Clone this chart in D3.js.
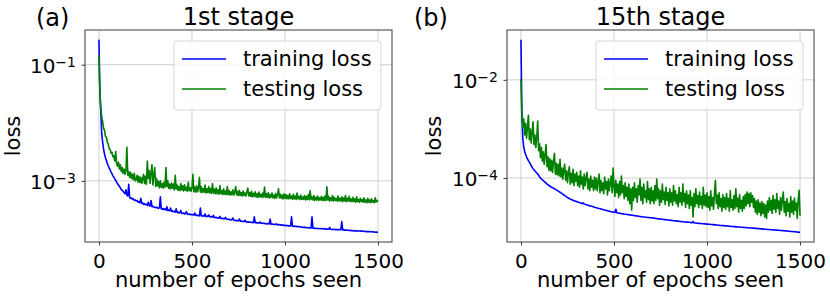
<!DOCTYPE html>
<html>
<head>
<meta charset="utf-8">
<script src="https://cdn.jsdelivr.net/npm/d3@7"></script>
<style>
  body { margin: 0; background: #fff; }
  svg { display: block; font-family: "DejaVu Sans", sans-serif; }
</style>
</head>
<body>
<div id="chart"></div>
<script>
const width = 830,
  height = 298;

// one value every 5 epochs, 0..1500
const epochs = d3.range(0, 1501, 5);
const xTicks = [0, 500, 1000, 1500];
const seriesNames = ['training loss', 'testing loss'];

// (a) 1st stage - training loss
const trainA = [
  0.27, 0.035, 0.016, 6.3e-3, 4.6e-3, 3.5e-3, 2.9e-3, 2.5e-3, 2.25e-3, 1.98e-3, 1.82e-3, 1.66e-3, 1.56e-3, 1.42e-3, 1.33e-3, 1.22e-3, 1.16e-3, 1.08e-3, 1.03e-3, 9.5e-4,
  8.9e-4, 8.5e-4, 8.0e-4, 7.6e-4, 7.1e-4, 6.9e-4, 6.6e-4, 6.3e-4, 6.0e-4, 7.0e-4, 5.7e-4, 5.5e-4, 8.7e-4, 5.2e-4, 5.0e-4, 5.1e-4, 4.8e-4, 4.9e-4, 4.65e-4, 4.7e-4,
  4.5e-4, 4.6e-4, 4.3e-4, 4.4e-4, 4.2e-4, 5.0e-4, 4.1e-4, 4.15e-4, 3.95e-4, 4.05e-4, 3.9e-4, 3.95e-4, 3.8e-4, 4.3e-4, 3.75e-4, 3.7e-4, 4.6e-4, 3.6e-4, 3.65e-4, 3.55e-4,
  3.5e-4, 3.45e-4, 3.55e-4, 3.4e-4, 3.35e-4, 3.45e-4, 5.3e-4, 3.3e-4, 3.25e-4, 3.35e-4, 3.2e-4, 3.3e-4, 3.15e-4, 3.6e-4, 3.1e-4, 3.15e-4, 3.05e-4, 3.4e-4, 3.0e-4, 3.05e-4,
  2.95e-4, 3.0e-4, 2.9e-4, 3.3e-4, 2.85e-4, 2.9e-4, 2.8e-4, 2.85e-4, 3.1e-4, 2.75e-4, 2.75e-4, 2.8e-4, 2.7e-4, 2.75e-4, 2.95e-4, 2.68e-4, 2.65e-4, 2.7e-4, 2.62e-4, 2.66e-4,
  2.6e-4, 2.64e-4, 2.58e-4, 2.8e-4, 2.55e-4, 2.58e-4, 2.52e-4, 2.55e-4, 2.5e-4, 3.4e-4, 2.5e-4, 2.48e-4, 2.52e-4, 2.46e-4, 2.7e-4, 2.45e-4, 2.47e-4, 2.43e-4, 2.6e-4, 2.42e-4,
  2.4e-4, 2.43e-4, 2.38e-4, 2.55e-4, 2.35e-4, 2.33e-4, 2.36e-4, 2.3e-4, 2.32e-4, 2.28e-4, 2.45e-4, 2.26e-4, 2.25e-4, 2.28e-4, 2.22e-4, 2.24e-4, 2.35e-4, 2.2e-4, 2.18e-4, 2.2e-4,
  2.15e-4, 2.17e-4, 2.13e-4, 2.15e-4, 2.3e-4, 2.1e-4, 2.08e-4, 2.1e-4, 2.06e-4, 2.08e-4, 2.04e-4, 2.2e-4, 2.02e-4, 2.03e-4, 2.0e-4, 2.02e-4, 1.99e-4, 2.1e-4, 1.97e-4, 1.98e-4,
  1.95e-4, 1.97e-4, 1.94e-4, 1.95e-4, 1.92e-4, 1.94e-4, 1.91e-4, 2.4e-4, 1.9e-4, 1.92e-4, 1.89e-4, 1.9e-4, 1.88e-4, 1.95e-4, 1.87e-4, 1.86e-4, 1.88e-4, 1.85e-4, 1.86e-4, 1.83e-4,
  1.82e-4, 1.84e-4, 1.81e-4, 1.82e-4, 2.2e-4, 1.8e-4, 1.79e-4, 1.81e-4, 1.78e-4, 1.79e-4, 1.77e-4, 1.82e-4, 1.76e-4, 1.75e-4, 1.77e-4, 1.74e-4, 1.75e-4, 1.73e-4, 1.74e-4, 1.71e-4,
  1.7e-4, 1.72e-4, 1.69e-4, 1.7e-4, 1.68e-4, 1.69e-4, 1.67e-4, 2.4e-4, 1.66e-4, 1.65e-4, 1.67e-4, 1.64e-4, 1.65e-4, 1.63e-4, 1.64e-4, 1.62e-4, 1.63e-4, 1.61e-4, 1.6e-4, 1.59e-4,
  1.58e-4, 1.6e-4, 1.57e-4, 1.58e-4, 1.56e-4, 1.57e-4, 1.55e-4, 1.56e-4, 1.54e-4, 2.4e-4, 1.53e-4, 1.54e-4, 1.52e-4, 1.53e-4, 1.52e-4, 1.51e-4, 1.52e-4, 1.5e-4, 1.51e-4, 1.5e-4,
  1.5e-4, 1.51e-4, 1.49e-4, 1.5e-4, 1.48e-4, 1.49e-4, 1.47e-4, 1.48e-4, 1.58e-4, 1.47e-4, 1.46e-4, 1.47e-4, 1.46e-4, 1.47e-4, 1.45e-4, 1.46e-4, 1.45e-4, 1.46e-4, 1.44e-4, 1.45e-4,
  1.44e-4, 2.0e-4, 1.43e-4, 1.44e-4, 1.42e-4, 1.43e-4, 1.41e-4, 1.42e-4, 1.41e-4, 1.4e-4, 1.41e-4, 1.39e-4, 1.4e-4, 1.39e-4, 1.38e-4, 1.39e-4, 1.38e-4, 1.37e-4, 1.38e-4, 1.37e-4,
  1.37e-4, 1.38e-4, 1.36e-4, 1.37e-4, 1.36e-4, 1.35e-4, 1.36e-4, 1.35e-4, 1.34e-4, 1.35e-4, 1.34e-4, 1.33e-4, 1.34e-4, 1.33e-4, 1.32e-4, 1.33e-4, 1.32e-4, 1.31e-4, 1.32e-4, 1.31e-4,
  1.3e-4
];

// (a) 1st stage - testing loss
const testA = [
  0.145, 0.032, 0.018, 0.0126, 0.0105, 8.0e-3, 7.4e-3, 5.8e-3, 5.6e-3, 4.6e-3, 4.3e-3, 3.6e-3, 3.5e-3, 3.0e-3, 3.1e-3, 2.6e-3, 2.7e-3, 2.2e-3, 3.2e-3, 1.95e-3,
  1.8e-3, 2.1e-3, 1.6e-3, 1.9e-3, 1.45e-3, 1.7e-3, 1.35e-3, 1.6e-3, 1.3e-3, 1.5e-3, 3.8e-3, 1.25e-3, 1.45e-3, 1.15e-3, 1.4e-3, 1.1e-3, 1.3e-3, 1.05e-3, 1.35e-3, 1.0e-3,
  1.05e-3, 1.25e-3, 9.5e-4, 1.2e-3, 9.4e-4, 1.15e-3, 9.0e-4, 1.1e-3, 1.3e-3, 9.0e-4, 1.2e-3, 8.8e-4, 2.2e-3, 1.1e-3, 1.5e-3, 9.0e-4, 1.4e-3, 1.9e-3, 8.5e-4, 1.3e-3,
  1.7e-3, 8.0e-4, 1.1e-3, 8.2e-4, 9.8e-4, 7.6e-4, 1.0e-3, 7.8e-4, 9.0e-4, 7.5e-4, 9.5e-4, 7.8e-4, 1.7e-3, 8.0e-4, 1.0e-3, 7.4e-4, 8.8e-4, 7.3e-4, 9.2e-4, 7.5e-4,
  8.8e-4, 7.0e-4, 1.25e-3, 7.3e-4, 8.5e-4, 6.9e-4, 8.0e-4, 6.8e-4, 9.0e-4, 7.0e-4, 8.2e-4, 6.7e-4, 8.6e-4, 6.9e-4, 7.8e-4, 6.6e-4, 9.5e-4, 6.8e-4, 7.6e-4, 6.6e-4,
  7.6e-4, 1.3e-3, 6.5e-4, 7.8e-4, 6.4e-4, 8.2e-4, 6.5e-4, 7.5e-4, 1.15e-3, 6.4e-4, 8.0e-4, 6.3e-4, 7.4e-4, 6.4e-4, 8.5e-4, 6.2e-4, 7.3e-4, 6.3e-4, 8.0e-4, 6.2e-4,
  7.4e-4, 6.1e-4, 9.0e-4, 6.2e-4, 7.2e-4, 6.0e-4, 7.6e-4, 6.0e-4, 7.0e-4, 5.9e-4, 8.3e-4, 6.0e-4, 6.8e-4, 5.8e-4, 7.3e-4, 5.9e-4, 6.7e-4, 5.8e-4, 8.0e-4, 5.8e-4,
  6.8e-4, 5.7e-4, 6.5e-4, 5.8e-4, 7.0e-4, 5.7e-4, 6.4e-4, 8.0e-4, 5.7e-4, 6.6e-4, 5.6e-4, 6.9e-4, 5.6e-4, 6.3e-4, 5.5e-4, 6.7e-4, 5.6e-4, 6.2e-4, 5.5e-4, 6.5e-4,
  7.5e-4, 5.5e-4, 6.3e-4, 5.4e-4, 6.6e-4, 5.3e-4, 6.1e-4, 5.4e-4, 6.5e-4, 5.3e-4, 6.0e-4, 5.2e-4, 6.4e-4, 5.3e-4, 5.9e-4, 5.2e-4, 6.2e-4, 5.3e-4, 7.8e-4, 5.2e-4,
  6.0e-4, 5.2e-4, 6.3e-4, 5.1e-4, 5.8e-4, 5.2e-4, 6.2e-4, 5.1e-4, 5.7e-4, 5.0e-4, 6.1e-4, 5.1e-4, 5.8e-4, 7.3e-4, 5.1e-4, 5.9e-4, 5.0e-4, 5.7e-4, 4.9e-4, 6.0e-4,
  5.0e-4, 5.8e-4, 4.9e-4, 5.6e-4, 4.9e-4, 6.0e-4, 5.0e-4, 5.5e-4, 4.8e-4, 5.9e-4, 4.9e-4, 5.5e-4, 4.8e-4, 6.2e-4, 4.9e-4, 5.4e-4, 4.8e-4, 5.7e-4, 4.8e-4, 5.3e-4,
  4.8e-4, 5.6e-4, 4.7e-4, 5.4e-4, 4.8e-4, 5.8e-4, 4.7e-4, 6.8e-4, 4.8e-4, 5.3e-4, 4.7e-4, 5.6e-4, 4.6e-4, 5.2e-4, 4.7e-4, 5.5e-4, 4.6e-4, 5.1e-4, 4.7e-4, 5.4e-4,
  4.6e-4, 5.2e-4, 4.6e-4, 5.5e-4, 4.6e-4, 7.9e-4, 4.7e-4, 5.4e-4, 4.5e-4, 5.1e-4, 4.6e-4, 5.6e-4, 4.5e-4, 5.2e-4, 4.6e-4, 5.0e-4, 4.5e-4, 5.5e-4, 4.5e-4, 5.0e-4,
  4.5e-4, 5.3e-4, 4.4e-4, 5.1e-4, 4.5e-4, 5.6e-4, 4.4e-4, 5.0e-4, 4.5e-4, 5.4e-4, 4.4e-4, 4.9e-4, 4.4e-4, 5.2e-4, 4.4e-4, 4.9e-4, 4.3e-4, 5.3e-4, 4.4e-4, 4.8e-4,
  4.3e-4, 5.0e-4, 4.4e-4, 4.8e-4, 4.3e-4, 5.1e-4, 4.3e-4, 4.7e-4, 4.2e-4, 5.0e-4, 4.3e-4, 4.7e-4, 4.2e-4, 4.9e-4, 4.3e-4, 4.6e-4, 4.2e-4, 5.1e-4, 4.3e-4, 4.6e-4,
  4.4e-4
];

// (b) 15th stage - training loss
const trainB = [
  0.066, 2.0e-3, 6.3e-4, 4.2e-4, 3.5e-4, 3.05e-4, 2.7e-4, 2.45e-4, 2.25e-4, 2.1e-4, 1.95e-4, 1.8e-4, 1.65e-4, 1.55e-4, 1.47e-4, 1.4e-4, 1.33e-4, 1.26e-4, 1.2e-4, 1.14e-4,
  1.06e-4, 1.0e-4, 9.6e-5, 9.2e-5, 8.8e-5, 8.5e-5, 8.1e-5, 7.9e-5, 7.5e-5, 7.3e-5, 7.0e-5, 6.9e-5, 6.6e-5, 6.5e-5, 6.3e-5, 6.2e-5, 6.0e-5, 5.9e-5, 5.7e-5, 5.6e-5,
  5.4e-5, 5.3e-5, 5.1e-5, 5.0e-5, 4.8e-5, 4.7e-5, 4.5e-5, 4.4e-5, 4.25e-5, 4.15e-5, 4.0e-5, 3.9e-5, 3.8e-5, 3.75e-5, 3.65e-5, 3.6e-5, 3.5e-5, 3.45e-5, 3.4e-5, 3.35e-5,
  3.3e-5, 3.25e-5, 3.2e-5, 3.15e-5, 3.1e-5, 3.05e-5, 3.0e-5, 3.1e-5, 2.95e-5, 2.9e-5, 2.85e-5, 2.82e-5, 2.8e-5, 2.75e-5, 2.7e-5, 2.68e-5, 2.65e-5, 2.62e-5, 2.58e-5, 2.55e-5,
  2.5e-5, 2.48e-5, 2.45e-5, 2.42e-5, 2.4e-5, 2.37e-5, 2.34e-5, 2.32e-5, 2.28e-5, 2.26e-5, 2.23e-5, 2.21e-5, 2.18e-5, 2.16e-5, 2.13e-5, 2.11e-5, 2.08e-5, 2.06e-5, 2.04e-5, 2.02e-5,
  2.0e-5, 1.98e-5, 2.3e-5, 1.96e-5, 1.94e-5, 1.93e-5, 1.91e-5, 1.9e-5, 1.88e-5, 1.87e-5, 1.86e-5, 1.84e-5, 1.83e-5, 1.82e-5, 1.8e-5, 1.79e-5, 1.78e-5, 1.77e-5, 1.76e-5, 1.75e-5,
  1.74e-5, 1.73e-5, 1.71e-5, 1.7e-5, 1.69e-5, 1.68e-5, 1.66e-5, 1.66e-5, 1.64e-5, 1.63e-5, 1.62e-5, 1.61e-5, 1.6e-5, 1.6e-5, 1.59e-5, 1.58e-5, 1.57e-5, 1.57e-5, 1.56e-5, 1.55e-5,
  1.55e-5, 1.54e-5, 1.53e-5, 1.52e-5, 1.51e-5, 1.5e-5, 1.49e-5, 1.48e-5, 1.47e-5, 1.46e-5, 1.46e-5, 1.45e-5, 1.44e-5, 1.43e-5, 1.42e-5, 1.42e-5, 1.41e-5, 1.4e-5, 1.39e-5, 1.39e-5,
  1.38e-5, 1.37e-5, 1.37e-5, 1.36e-5, 1.35e-5, 1.34e-5, 1.34e-5, 1.33e-5, 1.32e-5, 1.32e-5, 1.31e-5, 1.3e-5, 1.3e-5, 1.29e-5, 1.28e-5, 1.28e-5, 1.27e-5, 1.27e-5, 1.26e-5, 1.26e-5,
  1.25e-5, 1.25e-5, 1.24e-5, 1.23e-5, 1.23e-5, 1.3e-5, 1.22e-5, 1.21e-5, 1.21e-5, 1.2e-5, 1.2e-5, 1.19e-5, 1.19e-5, 1.18e-5, 1.18e-5, 1.17e-5, 1.17e-5, 1.16e-5, 1.16e-5, 1.15e-5,
  1.15e-5, 1.15e-5, 1.14e-5, 1.14e-5, 1.13e-5, 1.13e-5, 1.12e-5, 1.12e-5, 1.11e-5, 1.11e-5, 1.1e-5, 1.1e-5, 1.09e-5, 1.09e-5, 1.08e-5, 1.08e-5, 1.08e-5, 1.07e-5, 1.07e-5, 1.06e-5,
  1.06e-5, 1.06e-5, 1.05e-5, 1.05e-5, 1.04e-5, 1.04e-5, 1.03e-5, 1.03e-5, 1.03e-5, 1.02e-5, 1.02e-5, 1.01e-5, 1.01e-5, 1.0e-5, 1.0e-5, 1.0e-5, 9.95e-6, 9.9e-6, 9.9e-6, 9.85e-6,
  9.8e-6, 9.8e-6, 9.75e-6, 9.7e-6, 9.7e-6, 9.65e-6, 9.6e-6, 9.6e-6, 9.55e-6, 9.5e-6, 9.5e-6, 9.45e-6, 9.4e-6, 9.4e-6, 9.35e-6, 9.3e-6, 9.3e-6, 9.25e-6, 9.2e-6, 9.2e-6,
  9.1e-6, 9.1e-6, 9.05e-6, 9.0e-6, 9.0e-6, 8.95e-6, 8.9e-6, 8.9e-6, 8.85e-6, 8.8e-6, 8.8e-6, 8.75e-6, 8.7e-6, 8.7e-6, 8.65e-6, 8.65e-6, 8.6e-6, 8.6e-6, 8.55e-6, 8.5e-6,
  8.5e-6, 8.45e-6, 8.45e-6, 8.4e-6, 8.35e-6, 8.35e-6, 8.3e-6, 8.25e-6, 8.2e-6, 8.2e-6, 8.15e-6, 8.1e-6, 8.1e-6, 8.05e-6, 8.0e-6, 8.0e-6, 7.95e-6, 7.9e-6, 7.9e-6, 7.85e-6,
  7.8e-6
];

// (b) 15th stage - testing loss
const testB = [
  0.0105, 1.7e-3, 1.1e-3, 1.6e-3, 7.5e-4, 1.3e-3, 6.5e-4, 1.1e-3, 1.9e-3, 6.0e-4, 1.0e-3, 5.2e-4, 8.5e-4, 1.4e-3, 4.8e-4, 7.5e-4, 4.2e-4, 6.8e-4, 1.45e-3, 3.6e-4,
  5.0e-4, 2.6e-4, 4.2e-4, 2.2e-4, 3.4e-4, 1.9e-4, 3.0e-4, 4.8e-4, 1.7e-4, 2.7e-4, 1.45e-4, 2.5e-4, 1.4e-4, 2.3e-4, 1.3e-4, 2.2e-4, 3.2e-4, 1.2e-4, 2.0e-4, 1.15e-4,
  1.9e-4, 1.1e-4, 2.4e-4, 1.05e-4, 1.6e-4, 9.5e-5, 1.5e-4, 1.9e-4, 9.0e-5, 1.4e-4, 8.0e-5, 1.3e-4, 1.7e-4, 7.5e-5, 1.25e-4, 8.0e-5, 1.5e-4, 7.0e-5, 1.2e-4, 8.5e-5,
  1.3e-4, 7.0e-5, 1.1e-4, 6.5e-5, 1.4e-4, 7.5e-5, 1.05e-4, 6.0e-5, 1.2e-4, 7.0e-5, 1.0e-4, 1.3e-4, 6.0e-5, 9.5e-5, 5.5e-5, 1.1e-4, 6.5e-5, 9.0e-5, 5.5e-5, 1.05e-4,
  6.0e-5, 1.0e-4, 5.5e-5, 8.5e-5, 1.2e-4, 5.0e-5, 9.0e-5, 5.5e-5, 8.0e-5, 4.8e-5, 1.05e-4, 6.0e-5, 8.5e-5, 4.5e-5, 9.5e-5, 5.5e-5, 8.0e-5, 1.1e-4, 5.0e-5, 1.6e-4,
  7.0e-5, 4.2e-5, 9.0e-5, 5.0e-5, 7.5e-5, 4.0e-5, 8.5e-5, 4.5e-5, 1.1e-4, 5.0e-5, 7.0e-5, 3.8e-5, 8.0e-5, 4.2e-5, 6.5e-5, 3.5e-5, 7.5e-5, 3.0e-5, 6.0e-5, 2.2e-5,
  6.5e-5, 3.5e-5, 8.0e-5, 4.0e-5, 6.0e-5, 3.2e-5, 7.0e-5, 4.5e-5, 9.5e-5, 3.5e-5, 6.5e-5, 3.0e-5, 7.5e-5, 4.0e-5, 5.5e-5, 3.2e-5, 8.5e-5, 3.6e-5, 6.0e-5, 3.0e-5,
  6.5e-5, 3.4e-5, 5.5e-5, 3.0e-5, 7.0e-5, 3.5e-5, 9.5e-5, 3.8e-5, 6.0e-5, 2.8e-5, 5.5e-5, 3.2e-5, 7.5e-5, 3.6e-5, 5.2e-5, 2.9e-5, 6.5e-5, 3.5e-5, 5.0e-5, 2.7e-5,
  6.0e-5, 3.2e-5, 5.0e-5, 2.8e-5, 7.0e-5, 3.4e-5, 5.5e-5, 3.0e-5, 4.6e-5, 2.6e-5, 6.5e-5, 3.2e-5, 5.0e-5, 2.8e-5, 7.5e-5, 3.3e-5, 4.8e-5, 2.5e-5, 5.5e-5, 3.0e-5,
  4.5e-5, 2.4e-5, 5.5e-5, 2.8e-5, 4.0e-5, 1.6e-5, 4.8e-5, 2.6e-5, 6.0e-5, 3.0e-5, 4.4e-5, 2.5e-5, 5.2e-5, 2.9e-5, 4.2e-5, 2.4e-5, 6.5e-5, 2.8e-5, 4.5e-5, 2.6e-5,
  5.0e-5, 2.5e-5, 4.2e-5, 2.2e-5, 5.5e-5, 2.7e-5, 4.0e-5, 2.3e-5, 4.8e-5, 9.0e-5, 3.0e-5, 4.5e-5, 2.4e-5, 5.0e-5, 2.6e-5, 3.8e-5, 2.1e-5, 4.6e-5, 2.5e-5, 4.0e-5,
  2.3e-5, 4.8e-5, 2.6e-5, 3.8e-5, 2.1e-5, 5.5e-5, 2.5e-5, 3.6e-5, 2.2e-5, 4.4e-5, 2.4e-5, 6.0e-5, 2.6e-5, 3.9e-5, 2.0e-5, 4.6e-5, 2.4e-5, 3.5e-5, 2.1e-5, 4.2e-5,
  2.4e-5, 4.6e-5, 2.7e-5, 5.2e-5, 3.0e-5, 4.8e-5, 2.6e-5, 5.0e-5, 3.2e-5, 4.4e-5, 2.5e-5, 3.8e-5, 2.0e-5, 3.4e-5, 1.8e-5, 3.6e-5, 2.0e-5, 3.1e-5, 1.7e-5, 3.3e-5,
  1.9e-5, 3.0e-5, 1.6e-5, 2.8e-5, 1.5e-5, 3.4e-5, 2.0e-5, 4.0e-5, 2.2e-5, 3.5e-5, 1.9e-5, 4.4e-5, 2.3e-5, 3.6e-5, 2.0e-5, 4.8e-5, 2.4e-5, 3.4e-5, 1.8e-5, 4.0e-5,
  2.2e-5, 3.6e-5, 5.2e-5, 2.0e-5, 3.3e-5, 1.7e-5, 3.8e-5, 2.1e-5, 3.0e-5, 1.6e-5, 4.2e-5, 2.0e-5, 3.4e-5, 1.8e-5, 3.9e-5, 2.2e-5, 3.1e-5, 1.5e-5, 3.5e-5, 5.6e-5,
  1.7e-5
];

const panels = [
  { tag: '(a)', title: '1st stage', train: trainA, test: testA, yTicks: [1e-1, 1e-3], left: 85, right: 392, tagX: 36, ylabelX: 19.5 },
  { tag: '(b)', title: '15th stage', train: trainB, test: testB, yTicks: [1e-2, 1e-4], left: 507, right: 814, tagX: 414, ylabelX: 441 },
];
const plotTop = 30,
  plotBottom = 242;
const colors = ['#0000ff', '#008000'];

const svg = d3
  .select('#chart')
  .append('svg')
  .attr('width', width)
  .attr('height', height);

function drawPanel(p) {
  const g = svg.append('g');

  // x domain padded 5% like matplotlib
  const x = d3.scaleLinear().domain([-75, 1575]).range([p.left, p.right]);

  // log y with 5% padding of the data span (in decades)
  const all = p.train.concat(p.test);
  const lo = Math.log10(d3.min(all)),
    hi = Math.log10(d3.max(all));
  const pad = (hi - lo) * 0.05;
  const y = d3
    .scaleLog()
    .domain([Math.pow(10, lo - pad), Math.pow(10, hi + pad)])
    .range([plotBottom, plotTop]);

  // grid
  g.append('g')
    .selectAll('line')
    .data(xTicks)
    .join('line')
    .attr('x1', (d) => x(d))
    .attr('x2', (d) => x(d))
    .attr('y1', plotTop)
    .attr('y2', plotBottom)
    .attr('stroke', '#d0d0d0')
    .attr('stroke-width', 1);
  g.append('g')
    .selectAll('line')
    .data(p.yTicks)
    .join('line')
    .attr('x1', p.left)
    .attr('x2', p.right)
    .attr('y1', (d) => y(d))
    .attr('y2', (d) => y(d))
    .attr('stroke', '#d0d0d0')
    .attr('stroke-width', 1);

  // the two loss curves, test on top
  const line = d3
    .line()
    .x((d) => x(d[0]))
    .y((d) => y(d[1]));
  [p.train, p.test].forEach((s, i) => {
    const pts = epochs.map((e, k) => [e, s[k]]).filter((d) => d[1] != null);
    g.append('path')
      .datum(pts)
      .attr('d', line)
      .attr('fill', 'none')
      .attr('stroke', colors[i])
      .attr('stroke-width', 1.6)
      .attr('stroke-linejoin', 'round');
  });

  // frame
  g.append('rect')
    .attr('x', p.left)
    .attr('y', plotTop)
    .attr('width', p.right - p.left)
    .attr('height', plotBottom - plotTop)
    .attr('fill', 'none')
    .attr('stroke', '#3a3a3a')
    .attr('stroke-width', 1);

  // x axis
  const xa = g
    .append('g')
    .attr('transform', `translate(0,${plotBottom})`)
    .call(d3.axisBottom(x).tickValues(xTicks).tickSize(3.5).tickPadding(7.8).tickFormat(d3.format('d')));
  xa.select('.domain').remove();
  xa.selectAll('line').attr('stroke', '#3a3a3a');
  xa.selectAll('text').attr('font-size', 20).attr('font-family', 'DejaVu Sans').attr('fill', '#000');

  // y axis, labels as 10 with superscript exponent
  const ya = g
    .append('g')
    .attr('transform', `translate(${p.left},0)`)
    .call(d3.axisLeft(y).tickValues(p.yTicks).tickSize(3.5).tickPadding(5.5).tickFormat(''));
  ya.select('.domain').remove();
  ya.selectAll('line').attr('stroke', '#3a3a3a');
  ya.selectAll('text').each(function (d) {
    const t = d3.select(this).attr('dy', '0.4em').attr('font-size', 20).attr('font-family', 'DejaVu Sans').attr('fill', '#000');
    t.text('');
    t.append('tspan').text('10');
    t.append('tspan')
      .attr('dy', -6.5)
      .attr('font-size', 14)
      .text('\u2212' + Math.abs(Math.round(Math.log10(d))));
  });

  // labels
  g.append('text')
    .attr('x', (p.left + p.right) / 2)
    .attr('y', 287)
    .attr('text-anchor', 'middle')
    .attr('font-size', 21)
    .text('number of epochs seen');
  g.append('text')
    .attr('transform', `translate(${p.ylabelX},${(plotTop + plotBottom) / 2}) rotate(-90)`)
    .attr('text-anchor', 'middle')
    .attr('font-size', 21)
    .text('loss');
  g.append('text')
    .attr('x', (p.left + p.right) / 2)
    .attr('y', 25)
    .attr('text-anchor', 'middle')
    .attr('font-size', 24)
    .text(p.title);
  g.append('text').attr('x', p.tagX).attr('y', 26).attr('font-size', 24).text(p.tag);

  // legend, upper right
  const lw = 207,
    lh = 69;
  const lg = g.append('g').attr('transform', `translate(${p.right - 11 - lw},${plotTop + 11})`);
  lg.append('rect')
    .attr('width', lw)
    .attr('height', lh)
    .attr('rx', 3)
    .attr('fill', '#fff')
    .attr('fill-opacity', 0.8)
    .attr('stroke', '#d6d6d6')
    .attr('stroke-width', 1);
  const rows = lg
    .selectAll('g')
    .data(seriesNames)
    .join('g')
    .attr('transform', (d, i) => `translate(0,${18 + i * 30})`);
  rows
    .append('line')
    .attr('x1', 8)
    .attr('x2', 52)
    .attr('stroke', (d, i) => colors[i])
    .attr('stroke-width', 1.5);
  rows
    .append('text')
    .attr('x', 69)
    .attr('y', 7)
    .attr('font-size', 21)
    .text((d) => d);
}

panels.forEach(drawPanel);
</script>
</body>
</html>
